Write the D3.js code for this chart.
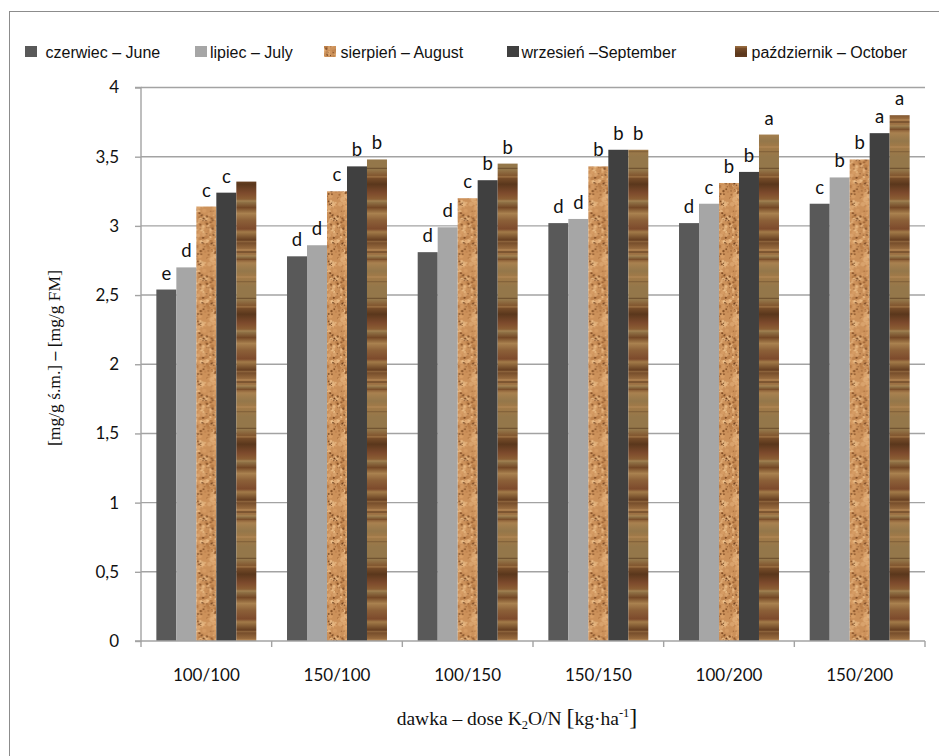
<!DOCTYPE html>
<html>
<head>
<meta charset="utf-8">
<script src="https://cdn.jsdelivr.net/npm/d3@7/dist/d3.min.js"></script>
<style>
  html, body { margin: 0; padding: 0; background: #fff; }
  svg { display: block; }
</style>
</head>
<body>
<svg id="chart" width="939" height="756"></svg>
<script>
// Doses K2O/N and monthly measurements
const categories = ["100/100", "150/100", "100/150", "150/150", "100/200", "150/200"];
const seriesNames = ["czerwiec – June", "lipiec – July", "sierpień – August", "wrzesień –September", "październik – October"];

const june      = [2.54, 2.78, 2.81, 3.02, 3.02, 3.16];
const july      = [2.70, 2.86, 2.99, 3.05, 3.16, 3.35];
const august    = [3.14, 3.25, 3.20, 3.43, 3.31, 3.48];
const september = [3.24, 3.43, 3.33, 3.55, 3.39, 3.67];
const october   = [3.32, 3.48, 3.45, 3.55, 3.66, 3.80];

// Homogeneous-group letters shown above bars
const juneLetters      = ["e", "d", "d", "d", "d", "c"];
const julyLetters      = ["d", "d", "d", "d", "c", "b"];
const augustLetters    = ["c", "c", "c", "b", "b", "b"];
const septemberLetters = ["c", "b", "b", "b", "b", "a"];
const octoberLetters   = ["",  "b", "b", "b", "a", "a"];

const yTicks = [0, 0.5, 1, 1.5, 2, 2.5, 3, 3.5, 4];

const seriesValues = [june, july, august, september, october];
const seriesLetters = [juneLetters, julyLetters, augustLetters, septemberLetters, octoberLetters];

const svg = d3.select("#chart");
const defs = svg.append("defs");

// Deterministic generator for texture detail
function lcg(seed) {
  let s = seed >>> 0;
  return () => { s = (s * 1664525 + 1013904223) >>> 0; return s / 4294967296; };
}

// Cork texture
(function () {
  const rnd = lcg(12345);
  const W = 30, H = 60;
  const p = defs.append("pattern").attr("id", "cork")
    .attr("patternUnits", "userSpaceOnUse").attr("width", W).attr("height", H);
  p.append("rect").attr("width", W).attr("height", H).attr("fill", "#cc915a");
  const blobs = ["#dca670", "#e6b47e", "#c0844e", "#d89e66", "#edc08a", "#b87b45"];
  for (let i = 0; i < 170; i++) {
    p.append("circle")
      .attr("cx", rnd() * W).attr("cy", rnd() * H)
      .attr("r", 0.8 + rnd() * 1.8)
      .attr("fill", blobs[Math.floor(rnd() * blobs.length)]).attr("opacity", 0.6 + rnd() * 0.4);
  }
  const dots = ["#7e4a22", "#633618", "#9a5f30"];
  for (let i = 0; i < 110; i++) {
    p.append("circle")
      .attr("cx", rnd() * W).attr("cy", rnd() * H)
      .attr("r", 0.4 + rnd() * 0.8)
      .attr("fill", dots[Math.floor(rnd() * dots.length)]).attr("opacity", 0.5 + rnd() * 0.5);
  }
})();

// Wood-grain texture: smooth banded gradient with a few sharp grain lines
(function () {
  const rnd = lcg(4242);
  const H = 130;
  const g = defs.append("linearGradient").attr("id", "woodBands")
    .attr("gradientUnits", "userSpaceOnUse")
    .attr("x1", 0).attr("y1", 0).attr("x2", 0).attr("y2", H);
  const cols = ["#744826", "#8a5c33", "#9e7042", "#a9814f", "#5a371c", "#94774a", "#80532d", "#663f21", "#a27a48", "#8c6038", "#7d4a2c"];
  let t = 0;
  while (t < 1) {
    g.append("stop").attr("offset", t).attr("stop-color", cols[Math.floor(rnd() * cols.length)]);
    t += 0.02 + rnd() * 0.06;
  }
  g.append("stop").attr("offset", 1).attr("stop-color", "#744826");
  const p = defs.append("pattern").attr("id", "wood")
    .attr("patternUnits", "userSpaceOnUse").attr("width", 40).attr("height", H);
  p.append("rect").attr("width", 40).attr("height", H).attr("fill", "url(#woodBands)");
  for (let i = 0; i < 10; i++) {
    p.append("rect").attr("x", 0).attr("y", rnd() * H).attr("width", 40).attr("height", 0.8 + rnd() * 1.2)
      .attr("fill", rnd() < 0.6 ? "#4a2c16" : "#b88e5a").attr("opacity", 0.3 + rnd() * 0.3);
  }
})();

const fills = ["#595959", "#a6a6a6", "url(#cork)", "#404040", "url(#wood)"];

// Outer chart frame
svg.append("rect").attr("x", 9.5).attr("y", 11.5).attr("width", 960).attr("height", 780)
  .attr("fill", "none").attr("stroke", "#8c8c8c").attr("stroke-width", 1);

// Scales
const plotLeft = 141, plotRight = 925, plotTop = 87.5, plotBottom = 641;
const y = d3.scaleLinear().domain([0, 4]).range([plotBottom, plotTop]);
const x0 = d3.scaleBand().domain(categories).range([plotLeft, plotRight])
  .paddingInner(0.235).paddingOuter(0.1175);
const x1 = d3.scaleBand().domain(d3.range(seriesValues.length)).range([0, x0.bandwidth()]);

const gridColor = "#a3a3a3";

// Horizontal gridlines
svg.append("g").selectAll("line").data(yTicks.filter(d => d > 0)).join("line")
  .attr("x1", plotLeft).attr("x2", plotRight)
  .attr("y1", d => y(d)).attr("y2", d => y(d))
  .attr("stroke", gridColor).attr("stroke-width", 1.4);

// Bars
const groups = svg.append("g").selectAll("g").data(categories).join("g")
  .attr("transform", d => `translate(${x0(d)},0)`);

groups.selectAll("rect")
  .data((c, i) => seriesValues.map((s, k) => ({ k, v: s[i] })))
  .join("rect")
  .attr("x", d => x1(d.k))
  .attr("y", d => y(d.v))
  .attr("width", x1.bandwidth())
  .attr("height", d => y(0) - y(d.v))
  .attr("fill", d => fills[d.k]);

// Group letters
groups.selectAll("text")
  .data((c, i) => seriesValues.map((s, k) => ({ k, v: s[i], t: seriesLetters[k][i] })))
  .join("text")
  .attr("x", d => x1(d.k) + x1.bandwidth() / 2)
  .attr("y", d => y(d.v) - 10)
  .attr("text-anchor", "middle")
  .attr("font-family", "Lato, 'Open Sans', sans-serif")
  .attr("font-size", 18.5)
  .attr("fill", "#111")
  .text(d => d.t);

// Y axis
const yAxis = d3.axisLeft(y).tickValues(yTicks).tickSize(6).tickPadding(16)
  .tickFormat(d => String(d).replace(".", ","));
const gy = svg.append("g").attr("transform", `translate(${plotLeft},0)`).call(yAxis);
gy.select(".domain").attr("stroke", gridColor).attr("stroke-width", 1.4)
  .attr("d", `M-6,${plotTop}H0V${plotBottom}H-6`);
gy.selectAll(".tick line").attr("stroke", gridColor).attr("stroke-width", 1.4);
gy.selectAll(".tick text").attr("font-family", "Lato, 'Open Sans', sans-serif")
  .attr("font-size", 17).attr("fill", "#111");

// X axis with ticks on category boundaries
const gx = svg.append("g").attr("transform", `translate(0,${plotBottom})`);
gx.append("line").attr("x1", plotLeft).attr("x2", plotRight).attr("y1", 0).attr("y2", 0)
  .attr("stroke", gridColor).attr("stroke-width", 1.4);
const step = x0.step();
const boundaries = d3.range(categories.length + 1).map(i => plotLeft + i * step);
gx.selectAll("line.tk").data(boundaries).join("line").attr("class", "tk")
  .attr("x1", d => d).attr("x2", d => d).attr("y1", 0).attr("y2", 6)
  .attr("stroke", gridColor).attr("stroke-width", 1.4);
gx.selectAll("text").data(categories).join("text")
  .attr("x", d => x0(d) + x0.bandwidth() / 2)
  .attr("y", 40)
  .attr("text-anchor", "middle")
  .attr("font-family", "Lato, 'Open Sans', sans-serif")
  .attr("font-size", 17).attr("fill", "#111")
  .text(d => d);

// Axis titles
const yTitle = svg.append("text")
  .attr("transform", "translate(60,358) rotate(-90)")
  .attr("text-anchor", "middle")
  .attr("font-family", "'Liberation Serif', 'Times New Roman', serif")
  .attr("font-size", 17.5).attr("fill", "#111");
yTitle.append("tspan").text("[mg/g ś.m.] ");
yTitle.append("tspan").attr("font-weight", "bold").text("–");
yTitle.append("tspan").text(" [mg/g FM]");

const xTitle = svg.append("text")
  .attr("x", 517).attr("y", 725)
  .attr("text-anchor", "middle")
  .attr("font-family", "'Liberation Serif', 'Times New Roman', serif")
  .attr("font-size", 19.5).attr("fill", "#111");
xTitle.append("tspan").text("dawka – dose K");
xTitle.append("tspan").attr("font-size", 12.5).attr("dy", 4).text("2");
xTitle.append("tspan").attr("dy", -4).text("O/N ");
xTitle.append("tspan").attr("font-size", 24).text("[");
xTitle.append("tspan").text("kg·ha");
xTitle.append("tspan").attr("font-size", 12.5).attr("dy", -8).text("-1");
xTitle.append("tspan").attr("dy", 8).attr("font-size", 24).text("]");

// Legend
const legendX = [25, 195, 324, 507, 735];
const legendTextX = [45.5, 210, 340.5, 521.5, 751.5];
const lg = svg.append("g");
seriesNames.forEach((name, k) => {
  lg.append("rect").attr("x", legendX[k]).attr("y", 46).attr("width", 12).attr("height", 11)
    .attr("fill", fills[k]);
  lg.append("text").attr("x", legendTextX[k]).attr("y", 57.5)
    .attr("font-family", "'Liberation Sans', Arial, sans-serif")
    .attr("font-size", 16).attr("fill", "#111")
    .text(name);
});
</script>
</body>
</html>
